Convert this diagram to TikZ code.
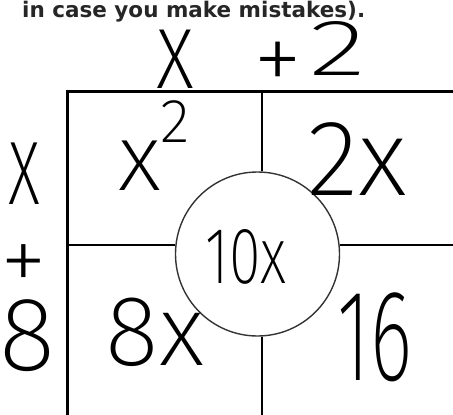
\documentclass[tikz,border=0pt]{standalone}
\usepackage{fontspec}
\newfontfamily\hand{Fira Sans}[UprightFont={* ExtraLight}]
\newfontfamily\notefont{DejaVu Sans}[BoldFont={* Bold}]
\begin{document}
\begin{tikzpicture}[x=1pt, y=-1pt,
  hand/.style={font=\hand\fontsize{#1}{#1}\selectfont, inner sep=0pt,
    anchor=base, text depth=0pt, text height={0.69*#1}},
  handx/.style={hand=#1, text height={0.53*#1}},
  stretch/.style={xscale=#1, transform shape},
  frame/.style={line width=3pt},
  rule/.style={line width=2pt},
  ring/.style={line width=1.4pt, black!80}
]
\useasboundingbox (0,0) rectangle (453,415);
\clip (0,0) rectangle (453,415);

% line of text above
\node[anchor=base west, inner sep=0pt, black!85]
  (note) at (22,17) {\notefont\bfseries\fontsize{21.5}{21.5}\selectfont in case you make mistakes).};

% frame and grid
\coordinate (tl) at (67.5,91);
\coordinate (tr) at (470,91);
\coordinate (bl) at (67.5,430);
\node[draw, circle, ring, minimum size=164pt, inner sep=0pt] (ring) at (257.5,254) {};
\draw[frame] (tr) -- (tl) -- (bl);
\draw[rule] (262,91) -- (ring.north -| 262,91);
\draw[rule] (ring.south -| 262,91) -- (262,430);
\draw[rule] (67.5,245) -- (ring.west |- 67.5,245);
\draw[rule] (ring.east |- 67.5,245) -- (470,245);

% side labels
\node[handx=112, stretch=0.75] (topx) at (175,88) {x};
\node[hand=100] (topplus) at (278,92) {+};
\node[hand=80, stretch=1.5] (toptwo) at (338,75) {2};
\node[handx=118, stretch=0.6] (leftx) at (24,204) {x};
\node[hand=95] (leftplus) at (24,292) {+};
\node[hand=105] (lefteight) at (27,370) {8};

% cell labels
\node[hand=95, text height=92] (xsq) at (154,190) {x\raisebox{0.5em}{\fontsize{62}{62}\selectfont 2}};
\node[hand=108] (twox) at (357,195) {2x};
\node[hand=80, stretch=0.72] (tenx) at (246,283) {10x};
\node[hand=100] (eightx) at (155,365) {8x};
\node[hand=130, stretch=0.62] (sixteen) at (375,380) {16};
\end{tikzpicture}
\end{document}
